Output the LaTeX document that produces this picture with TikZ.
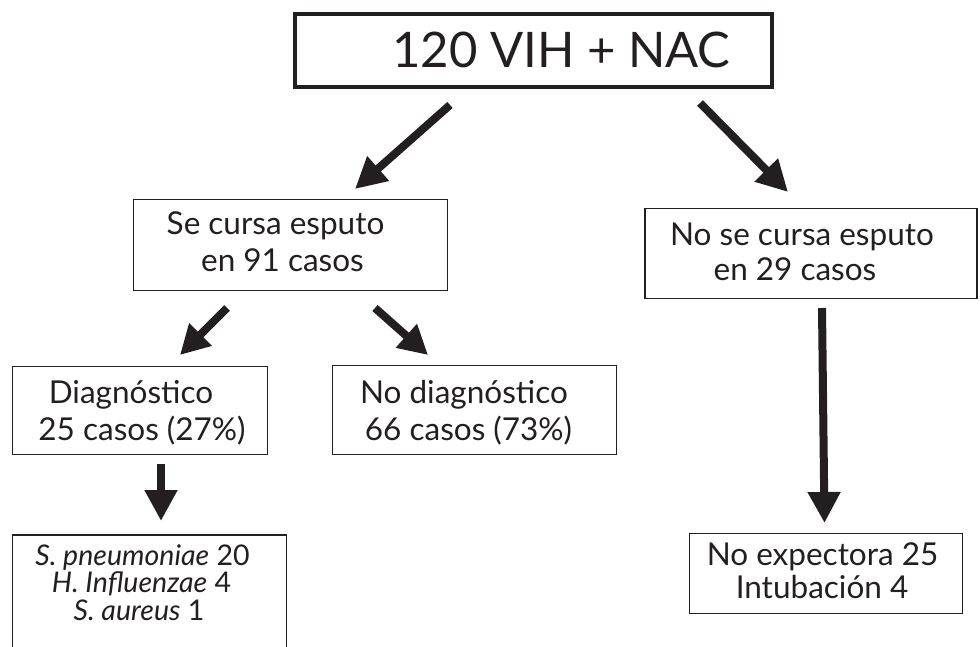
\documentclass[tikz,border=0pt]{standalone}
\usepackage{fontspec}
\setmainfont{Lato}
\usetikzlibrary{arrows.meta}
\definecolor{ink}{HTML}{231F20}
\begin{document}
\begin{tikzpicture}[x=1pt,y=-1pt,
  box/.style={draw=ink, line width=1.4pt, rectangle, inner sep=0pt},
  bigbox/.style={draw=ink, line width=4pt, rectangle, inner sep=0pt},
  txt/.style={anchor=base, inner sep=0pt, text=ink, font=\fontsize{31.5}{37}\selectfont},
  tighttxt/.style={anchor=base, inner sep=0pt, text=ink, font=\fontsize{28.5}{27}\selectfont,
                   text height=18pt, text depth=5pt},
  bigtxt/.style={anchor=base, inner sep=0pt, text=ink, font=\fontsize{49}{60}\selectfont},
  fat/.style={draw=ink, line width=8pt, -{Triangle[length=31pt,width=31pt]}},
  fatsmall/.style={draw=ink, line width=8pt, -{Triangle[length=29pt,width=30pt]}},
]
\useasboundingbox (0,0) rectangle (980,647);

% boxes
\node[bigbox, minimum width=477, minimum height=73] (top) at (533.5,50.5) {};
\node[box, minimum width=313.5, minimum height=90.5] (se) at (290.5,245) {};
\node[box, minimum width=332, minimum height=89.5] (nose) at (811,253.5) {};
\node[box, minimum width=254.5, minimum height=87.5] (diag) at (140,410.5) {};
\node[box, minimum width=283.5, minimum height=88.5] (nodiag) at (474.5,410) {};
\node[box, minimum width=274, minimum height=140] (org) at (149.5,605) {};
\node[box, minimum width=272.5, minimum height=79.5] (noexp) at (826,573.5) {};

% texts
\node[bigtxt] (t0) at (561.5,68) {120 VIH + NAC};
\node[txt] (t1a) at (275.5,235) {Se cursa esputo};
\node[txt] (t1b) at (282.5,272) {en 91 casos};
\node[txt] (t2a) at (802,245) {No se cursa esputo};
\node[txt] (t2b) at (795,280) {en 29 casos};
\node[txt] (t3a) at (131,403) {Diagnóstico};
\node[txt] (t3b) at (142,440) {25 casos (27\%)};
\node[txt] (t4a) at (464,403) {No diagnóstico};
\node[txt] (t4b) at (468.5,440) {66 casos (73\%)};
\node[tighttxt] (t5a) at (142.5,565) {\textit{S. pneumoniae} 20};
\node[tighttxt] (t5b) at (141.5,592.5) {\textit{H. Influenzae} 4};
\node[tighttxt] (t5c) at (139,620) {\textit{S. aureus} 1};
\node[txt] (t6a) at (822.5,565) {No expectora 25};
\node[txt] (t6b) at (822,598) {Intubación 4};

% arrow end points
\coordinate (a1s) at (450,105);  \coordinate (a1e) at (355,189);
\coordinate (a2s) at (700,103);  \coordinate (a2e) at (788,192);
\coordinate (a3s) at (227,308);  \coordinate (a3e) at (180,355);
\coordinate (a4s) at (375,308);  \coordinate (a4e) at (428,355);
\coordinate (a5s) at (161,464);  \coordinate (a5e) at (161,521);
\coordinate (a6s) at (822,308);  \coordinate (a6e) at (824.5,523);

\draw[fat] (a1s) -- (a1e);
\draw[fat] (a2s) -- (a2e);
\draw[fatsmall] (a3s) -- (a3e);
\draw[fatsmall] (a4s) -- (a4e);
\draw[fat] (a5s) -- (a5e);
\draw[fat] (a6s) -- (a6e);
\end{tikzpicture}
\end{document}
